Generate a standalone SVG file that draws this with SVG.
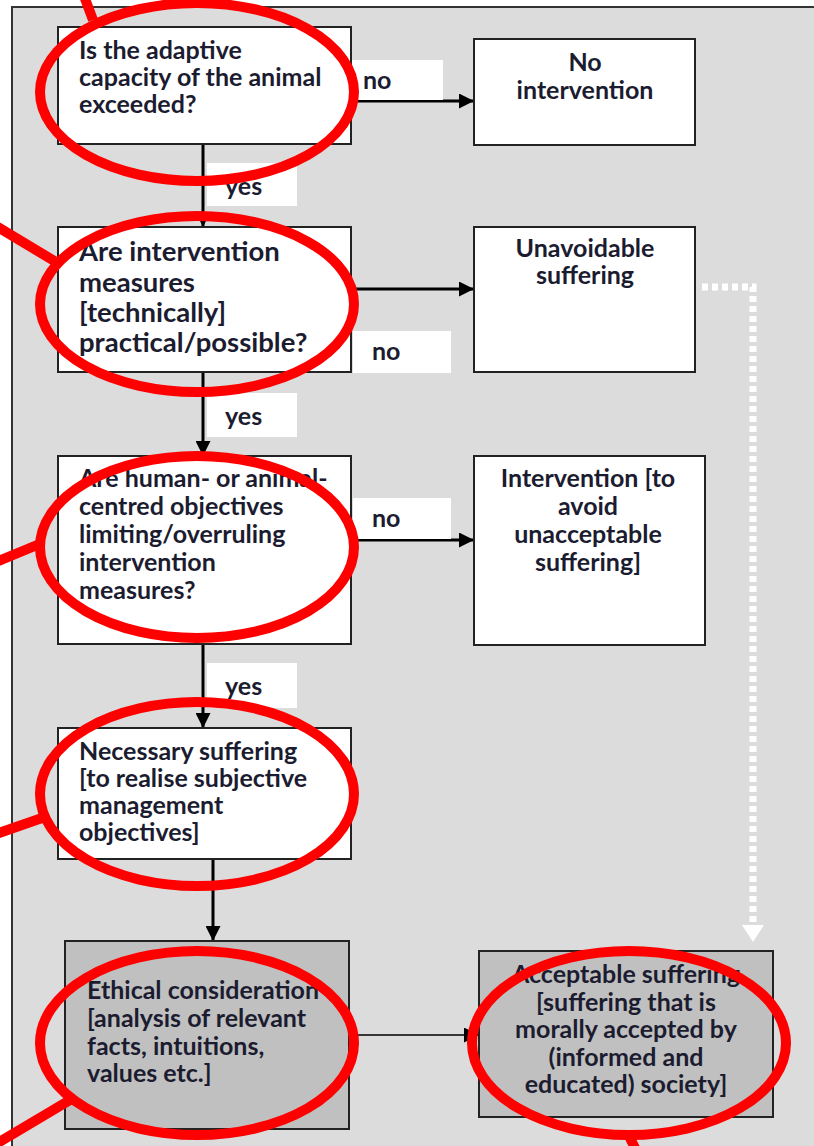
<svg xmlns="http://www.w3.org/2000/svg" width="814" height="1146" viewBox="0 0 814 1146">
<style>
.box{fill:#ffffff;stroke:#222;stroke-width:2}
.gbox{fill:#c0c0c0;stroke:#222;stroke-width:2}
.t{font-family:Lato,"Open Sans","DejaVu Sans",sans-serif;font-weight:700;font-size:25px;fill:#1c1c30}
.t2{font-size:27.5px}
.c{text-anchor:middle}
.lab{fill:#ffffff}
.ln{fill:none;stroke:#000;stroke-width:3}
.thin{fill:none;stroke:#000;stroke-width:1.5}
.dot{fill:none;stroke:#ffffff;stroke-width:7;stroke-dasharray:6 4}
.red{fill:none;stroke:#ff0000;stroke-width:10}
</style>
<defs>
<marker id="ah" viewBox="0 0 10 10" refX="10" refY="5" markerWidth="5" markerHeight="5" orient="auto" markerUnits="strokeWidth"><path d="M0,0L10,5L0,10z" fill="#000"/></marker>
<marker id="ahs" viewBox="0 0 10 10" refX="10" refY="5" markerWidth="10" markerHeight="10" orient="auto" markerUnits="strokeWidth"><path d="M0,0L10,5L0,10z" fill="#000"/></marker>
</defs>
<rect id="panel" x="12" y="7" width="820" height="1160" fill="#dcdcdc" stroke="#333" stroke-width="2"/>

<g id="connectors">
<path class="ln" d="M203,144V227" marker-end="url(#ah)"/>
<path class="ln" d="M351,101H474" marker-end="url(#ah)"/>
<path class="ln" d="M203,372V456" marker-end="url(#ah)"/>
<path class="ln" d="M351,289H474" marker-end="url(#ah)"/>
<path class="ln" d="M203,644V728" marker-end="url(#ah)"/>
<path class="ln" d="M351,540H474" marker-end="url(#ah)"/>
<path class="ln" d="M213,852V941" marker-end="url(#ah)"/>
<path class="thin" d="M349,1035H479" marker-end="url(#ahs)"/>
<path class="dot" d="M702,287H753V925"/>
<path d="M742,925H764L753,942z" fill="#ffffff"/>
<rect class="lab" x="352" y="60" width="91" height="40"/>
<text class="t" x="363" y="89">no</text>
<rect class="lab" x="207" y="163" width="90" height="43"/>
<text class="t" x="225" y="195">yes</text>
<rect class="lab" x="353" y="331" width="98" height="42"/>
<text class="t" x="372" y="360">no</text>
<rect class="lab" x="207" y="393" width="90" height="44"/>
<text class="t" x="225" y="425">yes</text>
<rect class="lab" x="353" y="498" width="98" height="41"/>
<text class="t" x="372" y="527">no</text>
<rect class="lab" x="207" y="663" width="90" height="45"/>
<text class="t" x="225" y="695">yes</text>
</g>

<g id="q1">
<rect class="box" x="58" y="27" width="293" height="117"/>
<text class="t" x="79"><tspan x="79" y="59">Is the adaptive</tspan><tspan x="79" y="86">capacity of the animal</tspan><tspan x="79" y="113">exceeded?</tspan></text>
</g>
<g id="no-intervention">
<rect class="box" x="474" y="39" width="221" height="106"/>
<text class="t c"><tspan x="585" y="71">No</tspan><tspan x="585" y="99">intervention</tspan></text>
</g>
<g id="q2">
<rect class="box" x="58" y="227" width="293" height="145"/>
<text class="t t2"><tspan x="79" y="261">Are intervention</tspan><tspan x="79" y="292">measures</tspan><tspan x="79" y="322">[technically]</tspan><tspan x="79" y="352">practical/possible?</tspan></text>
</g>
<g id="unavoidable">
<rect class="box" x="474" y="227" width="221" height="145"/>
<text class="t c"><tspan x="585" y="257">Unavoidable</tspan><tspan x="585" y="284">suffering</tspan></text>
</g>
<g id="q3">
<rect class="box" x="58" y="456" width="293" height="188"/>
<text class="t"><tspan x="79" y="487">Are human- or animal-</tspan><tspan x="79" y="515">centred objectives</tspan><tspan x="79" y="543">limiting/overruling</tspan><tspan x="79" y="571">intervention</tspan><tspan x="79" y="599">measures?</tspan></text>
</g>
<g id="intervention">
<rect class="box" x="474" y="456" width="231" height="189"/>
<text class="t c"><tspan x="588" y="487">Intervention [to</tspan><tspan x="588" y="515">avoid</tspan><tspan x="588" y="543">unacceptable</tspan><tspan x="588" y="571">suffering]</tspan></text>
</g>
<g id="necessary">
<rect class="box" x="58" y="728" width="293" height="131"/>
<text class="t"><tspan x="79" y="760">Necessary suffering</tspan><tspan x="79" y="787">[to realise subjective</tspan><tspan x="79" y="814">management</tspan><tspan x="79" y="841">objectives]</tspan></text>
</g>
<g id="ethical">
<rect class="gbox" x="65" y="941" width="284" height="188"/>
<text class="t"><tspan x="87" y="999">Ethical consideration</tspan><tspan x="87" y="1027">[analysis of relevant</tspan><tspan x="87" y="1055">facts, intuitions,</tspan><tspan x="87" y="1082">values etc.]</tspan></text>
</g>
<g id="acceptable">
<rect class="gbox" x="479" y="951" width="294" height="166"/>
<text class="t c"><tspan x="626" y="983">Acceptable suffering</tspan><tspan x="626" y="1011">[suffering that is</tspan><tspan x="626" y="1038">morally accepted by</tspan><tspan x="626" y="1066">(informed and</tspan><tspan x="626" y="1093">educated) society]</tspan></text>
</g>

<g id="annotations">
<ellipse class="red" cx="197" cy="92" rx="157" ry="89"/>
<path class="red" d="M84,-4L93,20"/>
<ellipse class="red" cx="197" cy="304" rx="157" ry="88"/>
<path class="red" d="M-4,226L56,262"/>
<ellipse class="red" cx="197" cy="547" rx="157" ry="91"/>
<path class="red" d="M-4,562L42,543"/>
<ellipse class="red" cx="197" cy="794" rx="157" ry="92"/>
<path class="red" d="M-4,834L42,818"/>
<ellipse class="red" cx="197" cy="1043" rx="157" ry="92"/>
<path class="red" d="M-4,1144L70,1100"/>
<ellipse class="red" cx="629" cy="1043" rx="157" ry="92"/>
<path class="red" d="M628,1134L636,1150"/>
</g>
</svg>
